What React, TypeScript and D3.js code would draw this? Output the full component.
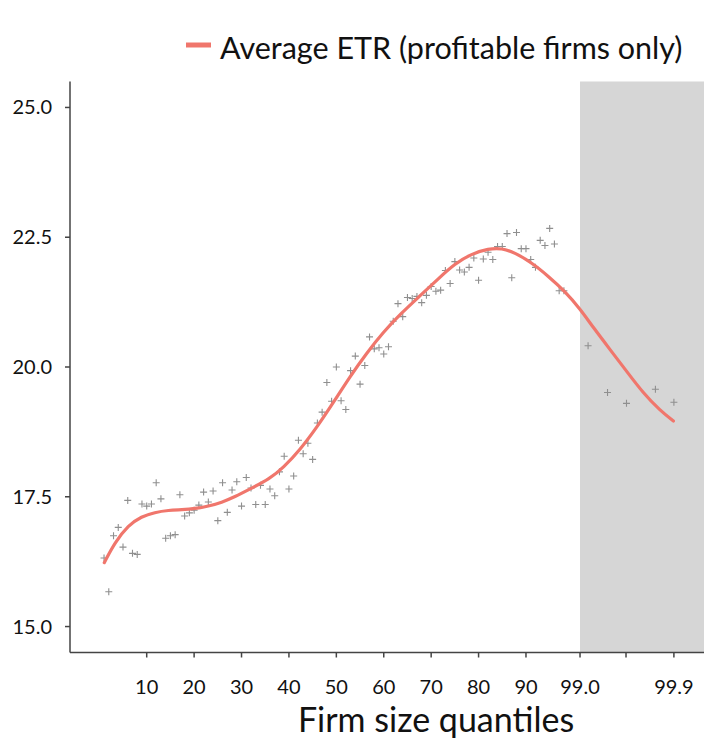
import React from "react";
import * as d3 from "d3";

// Scatter: average ETR for each percentile of firm size (1..98)
const percentileEtr: number[] = [
  16.32, 15.67, 16.75, 16.91, 16.53, 17.43, 16.41, 16.39, 17.36, 17.32,
  17.36, 17.77, 17.46, 16.7, 16.75, 16.77, 17.54, 17.13, 17.19, 17.24,
  17.34, 17.59, 17.4, 17.61, 17.04, 17.77, 17.2, 17.63, 17.79, 17.32,
  17.87, 17.67, 17.35, 17.72, 17.35, 17.65, 17.52, 17.98, 18.28, 17.65,
  17.9, 18.59, 18.33, 18.53, 18.22, 18.92, 19.13, 19.7, 19.34, 20.0,
  19.35, 19.18, 19.93, 20.21, 19.67, 20.03, 20.58, 20.35, 20.37, 20.25,
  20.39, 20.88, 21.22, 20.97, 21.34, 21.32, 21.36, 21.24, 21.38, 21.55,
  21.46, 21.48, 21.86, 21.61, 22.03, 21.87, 21.83, 21.92, 22.1, 21.67,
  22.08, 22.21, 22.07, 22.32, 22.32, 22.57, 21.72, 22.59, 22.28, 22.28,
  22.07, 21.92, 22.44, 22.34, 22.67, 22.37, 21.47, 21.47,
];

// Top 1% (shaded zone): axis positions and values
const topPos: number[] = [103.1, 107.2, 111.2, 117.3, 121.2];
const topEtr: number[] = [20.41, 19.51, 19.3, 19.57, 19.32];

// Smoothed fit (axis position, value)
const curvePos: number[] = [
  1.05, 3.3, 6.1, 8.9, 11.7, 14.6, 17.4, 20.2, 23, 25.8, 28.6, 31.6, 36,
  38.8, 42.3, 45.9, 49.4, 52.9, 56.4, 59.9, 63.6, 68, 71.5, 75, 78.5, 82.1,
  84.9, 87.7, 91.2, 94.7, 98.2, 101.4, 104.2, 107.7, 111.2, 114.7, 118.3,
  121.1,
];
const curveEtr: number[] = [
  16.23, 16.62, 16.95, 17.12, 17.2, 17.24, 17.25, 17.27, 17.32, 17.39, 17.5,
  17.64, 17.85, 18.06, 18.4, 18.84, 19.32, 19.82, 20.27, 20.67, 21.03,
  21.4, 21.7, 21.99, 22.18, 22.28, 22.29, 22.2, 22.01, 21.75, 21.46, 21.12,
  20.76, 20.34, 19.92, 19.5, 19.16, 18.96,
];

// Axis ticks
const xTickPos: number[] = [10, 20, 30, 40, 50, 60, 70, 80, 90, 101.4, 111.1, 121.2];
const xTickLabels: string[] = ["10", "20", "30", "40", "50", "60", "70", "80", "90", "99.0", "", "99.9"];
const yTicks: number[] = [15, 17.5, 20, 22.5, 25];
const shadeStart = 101.4;

const legendLabel = "Average ETR (profitable firms only)";
const xTitle = "Firm size quantiles";

const W = 728;
const H = 755;
const FONT = "Lato, 'Noto Sans', sans-serif";

export default function App() {
  const x = d3.scaleLinear().domain([-6.18, 127.55]).range([70, 704]);
  const y = d3.scaleLinear().domain([14.5, 25.5]).range([652.5, 81.5]);

  const pts = percentileEtr.map((v, i) => ({ p: i + 1, v }))
    .concat(topPos.map((p, i) => ({ p, v: topEtr[i] })));

  const line = d3
    .line<number>()
    .x((_, i) => x(curvePos[i]))
    .y((d) => y(d))
    .curve(d3.curveBasis);

  const [x0, x1] = x.range();
  const [yb, yt] = y.range();
  const arm = 3.5;

  return (
    <svg
      width={W}
      height={H}
      style={{ position: "absolute", left: 0, top: 0, display: "block", background: "#fff" }}
      fontFamily={FONT}
    >
      <rect x={0} y={0} width={W} height={H} fill="#fff" />
      {/* shaded top-1% zone */}
      <rect
        x={x(shadeStart)}
        y={yt}
        width={x1 - x(shadeStart)}
        height={yb - yt}
        fill="#d6d6d6"
      />
      {/* scatter */}
      <g stroke="#8f8f8f" strokeWidth={1.1}>
        {pts.map((d, i) => (
          <path
            key={i}
            d={`M${x(d.p) - arm},${y(d.v)}H${x(d.p) + arm}M${x(d.p)},${y(d.v) - arm}V${y(d.v) + arm}`}
          />
        ))}
      </g>
      {/* fitted curve */}
      <path
        d={line(curveEtr) || ""}
        fill="none"
        stroke="#f0766c"
        strokeWidth={3.2}
        strokeLinecap="round"
      />
      {/* axes */}
      <g stroke="#444" strokeWidth={1.5} fill="none">
        <line x1={x0} x2={x0} y1={yt} y2={yb} />
        <line x1={x0} x2={x1} y1={yb} y2={yb} />
        {yTicks.map((t) => (
          <line key={t} x1={x0 - 5} x2={x0} y1={y(t)} y2={y(t)} />
        ))}
        {xTickPos.map((t) => (
          <line key={t} x1={x(t)} x2={x(t)} y1={yb} y2={yb + 5} />
        ))}
      </g>
      <g fontSize={20} fill="#111">
        {yTicks.map((t) => (
          <text key={t} x={52} y={y(t)} dy="0.35em" textAnchor="end">
            {d3.format(".1f")(t)}
          </text>
        ))}
        {xTickPos.map((t, i) => (
          <text key={t} x={x(t)} y={yb + 34} dy="0.35em" textAnchor="middle">
            {xTickLabels[i]}
          </text>
        ))}
      </g>
      <text x={436} y={720} dy="0.35em" textAnchor="middle" fontSize={34} fill="#111">
        {xTitle}
      </text>
      {/* legend */}
      <line x1={186} x2={211} y1={45} y2={45} stroke="#f0766c" strokeWidth={5} />
      <text x={220} y={48} dy="0.35em" fontSize={30.5} fill="#111">
        {legendLabel}
      </text>
    </svg>
  );
}
